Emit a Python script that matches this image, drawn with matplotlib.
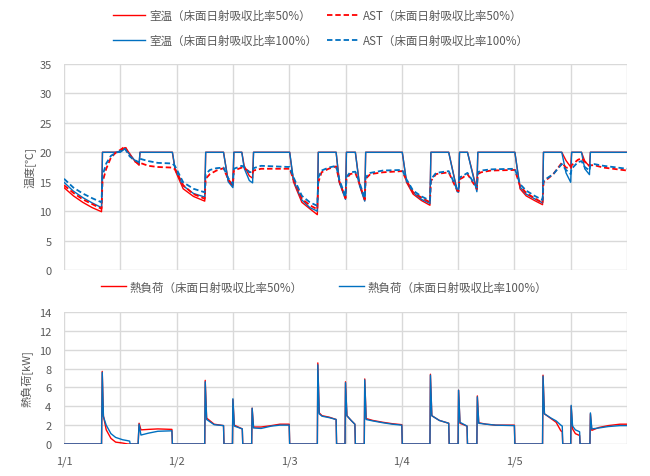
import matplotlib
matplotlib.use("Agg")
import matplotlib.pyplot as plt
from matplotlib.lines import Line2D
from matplotlib.ticker import MultipleLocator, FixedLocator

plt.rcParams['font.family'] = ['Noto Sans CJK JP', 'DejaVu Sans']

# ---------------- data (hours from 1/1 0:00) ----------------
t_temp = [0, 2, 4, 6, 8, 8.2, 9, 10, 11, 12, 13, 14, 15, 16, 16.2, 18, 20, 23.1, 23.7, 25.4, 27.6,
          30.0, 30.2, 31.1, 32.5, 34.0, 35.0, 36.0, 36.2, 37.9, 38.4, 39.5, 40.2, 40.4, 42, 45, 48.1,
          48.9, 49.5, 50.7, 52.4, 54.0, 54.2, 54.9, 56.4, 58.0, 58.7, 60.0, 60.2, 61.0, 62.1, 63.0,
          64.1, 64.3, 65.3, 68, 72.1, 73.0, 74.4, 76.2, 78.0, 78.2, 79.3, 82.0, 83.8, 84.1, 84.3,
          85.0, 86.0, 88.0, 88.2, 88.9, 91, 96.1, 97.2, 98.5, 100.3, 102.0, 102.2, 104.3, 106.1,
          107.0, 108.0, 108.2, 109.5, 110.3, 111.0, 112.0, 112.2, 113, 115, 118, 120]

room_50 = [14.0, 12.6, 11.5, 10.6, 9.9, 20, 20, 20, 20, 20.1, 20.8, 19.8, 18.6, 17.8, 20, 20, 20, 20, 16.9, 13.8, 12.5,
           11.7, 20, 20, 20, 20, 15.2, 14.3, 20, 20, 17.7, 16.0, 15.6, 20, 20, 20, 20,
           15.0, 13.8, 11.5, 10.4, 9.4, 20, 20, 20, 20, 15.0, 12.2, 20, 20, 20, 14.5,
           11.8, 20, 20, 20, 20, 14.9, 12.9, 11.8, 11.0, 20, 20, 20, 13.5, 13.4, 20,
           20, 20, 13.6, 20, 20, 20, 20, 13.8, 12.6, 11.8, 11.1, 20, 20, 20,
           18.6, 17.5, 20, 20, 20, 18.5, 17.6, 20, 20, 20, 20, 20]

room_100 = [14.9, 13.4, 12.3, 11.4, 10.6, 20, 20, 20, 20, 20.0, 20.6, 19.6, 18.7, 18.0, 20, 20, 20, 20, 17.2, 14.3, 13.0,
            12.4, 20, 20, 20, 20, 15.0, 14.0, 20, 20, 17.3, 15.2, 14.8, 20, 20, 20, 20,
            15.4, 14.1, 11.9, 10.6, 10.0, 20, 20, 20, 20, 14.8, 12.0, 20, 20, 20, 14.3,
            11.7, 20, 20, 20, 20, 15.1, 13.2, 12.0, 11.3, 20, 20, 20, 13.3, 13.2, 20,
            20, 20, 13.3, 20, 20, 20, 20, 14.1, 12.9, 12.1, 11.4, 20, 20, 20,
            16.5, 14.9, 20, 20, 20, 17.2, 16.2, 20, 20, 20, 20, 20]

ast_50 = [14.4, 13.1, 12.0, 11.2, 10.4, 14.9, 17.2, 19.1, 19.9, 20.4, 21.0, 19.5, 18.5, 18.0, 18.2, 17.7, 17.5, 17.4, 17.1, 14.4, 12.9,
          12.1, 15.5, 16.3, 16.9, 17.3, 15.4, 14.4, 16.9, 17.4, 17.3, 16.7, 16.5, 16.9, 17.2, 17.2, 17.2,
          15.4, 14.4, 12.1, 11.0, 10.3, 14.9, 16.6, 17.2, 17.6, 15.0, 12.2, 15.5, 16.3, 16.5, 14.6,
          12.0, 15.5, 16.3, 16.6, 16.8, 15.2, 13.2, 12.3, 11.5, 15.1, 16.3, 16.6, 13.5, 13.4, 15.4,
          15.7, 16.3, 13.8, 16.3, 16.6, 16.9, 17.0, 14.3, 13.1, 12.2, 11.4, 14.9, 16.3, 18.2,
          17.4, 17.3, 17.8, 18.7, 19.0, 18.4, 17.7, 17.8, 17.8, 17.4, 17.1, 16.9]

ast_100 = [15.5, 14.0, 13.0, 12.2, 11.5, 16.0, 18.1, 19.4, 19.9, 20.2, 20.6, 19.3, 18.7, 18.3, 18.9, 18.5, 18.2, 18.1, 17.6, 14.9, 13.8,
           13.2, 16.3, 17.0, 17.3, 17.4, 15.6, 14.6, 17.2, 17.7, 17.5, 16.6, 16.7, 17.3, 17.7, 17.6, 17.5,
           15.8, 14.7, 12.6, 11.5, 10.9, 15.7, 16.9, 17.4, 17.7, 15.3, 12.5, 15.8, 16.6, 16.7, 14.8,
           12.2, 15.8, 16.5, 16.9, 17.0, 15.4, 13.5, 12.5, 11.8, 15.4, 16.5, 16.8, 13.7, 13.6, 15.7,
           16.0, 16.5, 14.0, 16.6, 16.9, 17.1, 17.2, 14.6, 13.5, 12.6, 11.9, 15.2, 16.3, 18.0,
           17.0, 16.3, 17.2, 18.3, 18.5, 17.5, 16.9, 17.9, 18.0, 17.7, 17.4, 17.2]

t_load = [0, 8.0, 8.15, 8.4, 9.0, 10.0, 11.0, 12.5, 13.6, 14.0, 14.1, 15.8, 16.0, 16.4, 18, 20, 23.0, 23.1,
          30.0, 30.1, 30.4, 32, 34.0, 34.1, 35.9, 36.0, 36.3, 38.0, 38.1, 40.0, 40.1, 40.4, 42, 44.2, 46, 48.0, 48.1,
          54.0, 54.1, 54.4, 55, 56.5, 58.0, 58.1, 59.9, 60.0, 60.3, 61.2, 62.0, 62.1, 64.0, 64.1, 64.4, 65.8, 68, 70, 72.0, 72.1,
          78.0, 78.1, 78.4, 80, 82.0, 82.1, 84.0, 84.1, 84.4, 85.9, 86.0, 88.0, 88.1, 88.4, 90, 92, 96.0, 96.1,
          102.0, 102.1, 102.4, 103.8, 104.9, 105.9, 106.2, 106.3, 108.0, 108.1, 108.4, 109.0, 109.9, 110.0,
          112.1, 112.2, 112.5, 114, 116, 118.5, 120]

load_50 = [0, 0, 7.7, 3.0, 1.5, 0.6, 0.2, 0.1, 0.0, 0.0, 0, 0, 2.2, 1.5, 1.55, 1.6, 1.55, 0,
           0, 6.75, 2.75, 2.1, 1.95, 0, 0, 4.7, 2.0, 1.6, 0, 0, 3.8, 1.8, 1.8, 1.95, 2.1, 2.1, 0,
           0, 8.6, 3.3, 3.0, 2.85, 2.6, 0, 0, 6.6, 3.0, 2.5, 2.1, 0, 0, 6.9, 2.7, 2.5, 2.3, 2.15, 2.05, 0,
           0, 7.4, 3.0, 2.5, 2.2, 0, 0, 5.7, 2.2, 1.9, 0, 0, 5.1, 2.25, 2.1, 2.0, 2.0, 0,
           0, 7.3, 3.2, 2.7, 2.3, 1.4, 1.3, 0, 0, 4.0, 1.6, 1.1, 0.9, 0,
           0, 3.2, 1.45, 1.75, 1.95, 2.1, 2.1]

load_100 = [0, 0, 7.6, 2.9, 2.0, 1.1, 0.7, 0.45, 0.35, 0.3, 0, 0, 2.1, 0.95, 1.15, 1.35, 1.4, 0,
            0, 6.6, 2.6, 2.05, 1.95, 0, 0, 4.8, 1.9, 1.6, 0, 0, 3.8, 1.7, 1.65, 1.9, 2.0, 2.0, 0,
            0, 8.4, 3.2, 2.95, 2.8, 2.6, 0, 0, 6.5, 3.0, 2.5, 2.1, 0, 0, 6.8, 2.6, 2.45, 2.25, 2.1, 2.0, 0,
            0, 7.3, 3.0, 2.5, 2.2, 0, 0, 5.7, 2.3, 1.9, 0, 0, 5.0, 2.2, 2.1, 2.0, 1.95, 0,
            0, 7.2, 3.2, 2.75, 2.45, 2.0, 1.9, 0, 0, 4.1, 1.9, 1.5, 1.3, 0,
            0, 3.3, 1.6, 1.7, 1.85, 1.95, 1.95]

day_ticks = [0, 24, 48, 72, 96]
day_labels = ['1/1', '1/2', '1/3', '1/4', '1/5']

labels_temp = ['室温（床面日射吸収比率50%）', '室温（床面日射吸収比率100%）',
               'AST（床面日射吸収比率50%）', 'AST（床面日射吸収比率100%）']
labels_load = ['熱負荷（床面日射吸収比率50%）', '熱負荷（床面日射吸収比率100%）']

# ---------------- styling ----------------
RED = '#FF0000'
BLUE = '#0070C0'
GRID = '#D9D9D9'
TXT = '#595959'
DASH = (0, (3, 1.6))

fig = plt.figure(figsize=(6.5, 4.77), dpi=100)
ax1 = fig.add_axes([64/650, 1-271/477, 563/650, 206/477])
ax2 = fig.add_axes([64/650, 1-445/477, 563/650, 132/477])

for ax in (ax1, ax2):
    ax.set_xlim(0, 120)
    ax.xaxis.set_major_locator(FixedLocator(day_ticks))
    ax.xaxis.set_minor_locator(MultipleLocator(12))
    ax.grid(True, which='both', axis='x', color=GRID, lw=1.0)
    ax.grid(True, which='major', axis='y', color=GRID, lw=1.0)
    ax.set_axisbelow(True)
    for s in ax.spines.values():
        s.set_visible(False)
    ax.tick_params(axis='both', which='both', length=0, colors=TXT, labelsize=8)
    ax.tick_params(axis='y', pad=9)
    ax.tick_params(axis='x', pad=8)

# top chart
l1, = ax1.plot(t_temp, room_50, color=RED, lw=1.0)
l2, = ax1.plot(t_temp, room_100, color=BLUE, lw=1.0)
l3, = ax1.plot(t_temp, ast_50, color=RED, lw=1.3, ls=DASH)
l4, = ax1.plot(t_temp, ast_100, color=BLUE, lw=1.3, ls=DASH)
ax1.set_ylim(0, 35)
ax1.yaxis.set_major_locator(MultipleLocator(5))
ax1.set_xticklabels([])
ax1.set_ylabel('温度[℃]', color=TXT, fontsize=8, labelpad=2)

# bottom chart
m1, = ax2.plot(t_load, load_50, color=RED, lw=1.0)
m2, = ax2.plot(t_load, load_100, color=BLUE, lw=1.0)
ax2.set_ylim(0, 14)
ax2.yaxis.set_major_locator(MultipleLocator(2))
ax2.set_xticklabels(day_labels)
ax2.set_ylabel('熱負荷[kW]', color=TXT, fontsize=8, labelpad=4)

h1 = Line2D([], [], color=RED, lw=1.0)
h2 = Line2D([], [], color=BLUE, lw=1.0)
h3 = Line2D([], [], color=RED, lw=1.3, ls=DASH)
h4 = Line2D([], [], color=BLUE, lw=1.3, ls=DASH)
leg1 = fig.legend([h1, h2, h3, h4], labels_temp, ncol=2, loc='center',
                  bbox_to_anchor=(321/650, 1-29/477), frameon=False,
                  prop={'size': 8.3}, handlelength=2.8, handletextpad=0.35,
                  columnspacing=0.8, labelspacing=1.1)
for t in leg1.get_texts():
    t.set_color(TXT)

leg2 = fig.legend([h1, h2], labels_load, ncol=2, loc='center',
                  bbox_to_anchor=(324/650, 1-288/477), frameon=False,
                  prop={'size': 8.3}, handlelength=2.2, handletextpad=0.3,
                  columnspacing=3.1)
for t in leg2.get_texts():
    t.set_color(TXT)

fig.savefig('out.png', dpi=100)
